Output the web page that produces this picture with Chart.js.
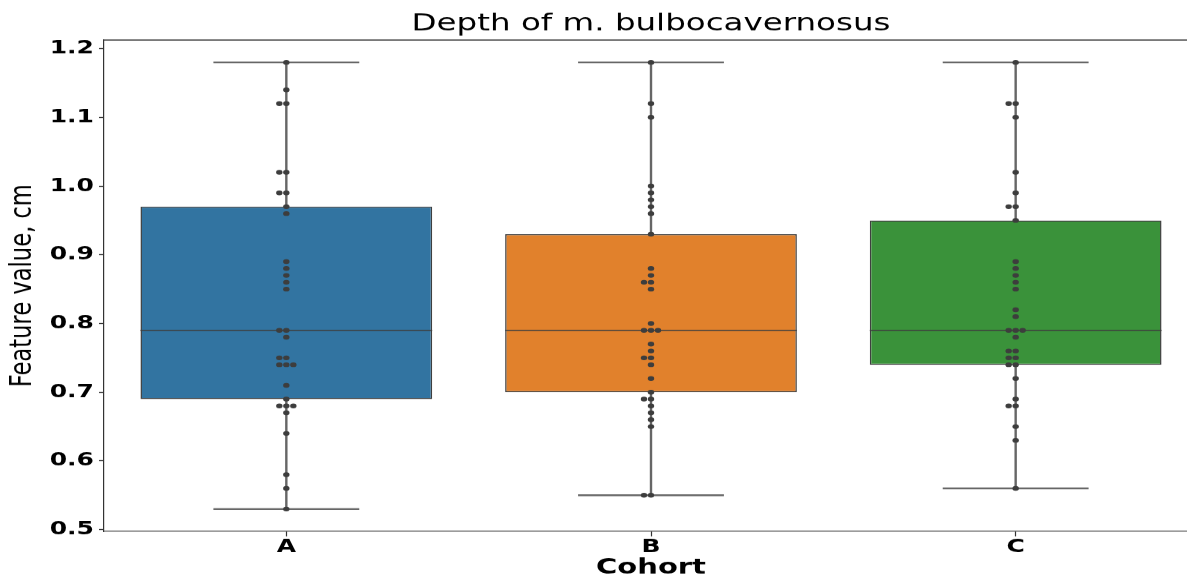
<!DOCTYPE html>
<html>
<head>
<meta charset="utf-8">
<script src="https://cdn.jsdelivr.net/npm/chart.js@4.4.1/dist/chart.umd.min.js"></script>
<style>
  html, body { margin: 0; padding: 0; background: #fff; width: 1187px; height: 581px; overflow: hidden; }
  #wrap { width: 1240px; height: 784px; transform-origin: 0 0; transform: scaleY(0.741071); }
  canvas { display: block; }
</style>
</head>
<body>
<div id="wrap"><canvas id="c" width="1240" height="784" style="width:1240px;height:784px"></canvas></div>
<script>
// Cohorts on the category axis
const categories = ['A', 'B', 'C'];

// Individual measurements per cohort (cm)
const cohortA = [1.18, 1.14, 1.12, 1.12, 1.02, 1.02, 0.99, 0.99, 0.97, 0.96, 0.89, 0.88, 0.87, 0.86, 0.85,
                 0.79, 0.79, 0.78, 0.75, 0.75, 0.74, 0.74, 0.74, 0.71, 0.69, 0.68, 0.68, 0.68, 0.67, 0.64,
                 0.58, 0.56, 0.53];
const cohortB = [1.18, 1.12, 1.10, 1.00, 0.99, 0.98, 0.97, 0.96, 0.93, 0.88, 0.87, 0.86, 0.86, 0.85, 0.80,
                 0.79, 0.79, 0.79, 0.77, 0.76, 0.75, 0.75, 0.74, 0.72, 0.70, 0.69, 0.69, 0.68, 0.67, 0.66,
                 0.65, 0.55, 0.55];
const cohortC = [1.18, 1.12, 1.12, 1.10, 1.02, 0.99, 0.97, 0.97, 0.95, 0.89, 0.88, 0.87, 0.86, 0.85, 0.82,
                 0.81, 0.79, 0.79, 0.79, 0.78, 0.76, 0.76, 0.75, 0.75, 0.74, 0.74, 0.72, 0.69, 0.68, 0.68,
                 0.65, 0.63, 0.56];

// Box summary per cohort
const whiskerLow  = [0.53, 0.55, 0.56];
const q1          = [0.69, 0.70, 0.74];
const median      = [0.79, 0.79, 0.79];
const q3          = [0.97, 0.93, 0.95];
const whiskerHigh = [1.18, 1.18, 1.18];

// Y axis tick values
const yTicks = [0.5, 0.6, 0.7, 0.8, 0.9, 1.0, 1.1, 1.2];

const boxColors = ['#3274a1', '#e1812c', '#3a923a'];
const FONT = 'DejaVu Sans';

// Beeswarm layout: equal values are spread sideways (centre, left, right, ...)
function swarm(values, center, step) {
  const seen = {};
  return values.map(v => {
    const k = seen[v] || 0;
    seen[v] = k + 1;
    const slot = k === 0 ? 0 : (k % 2 === 1 ? -Math.ceil(k / 2) : Math.ceil(k / 2));
    return { x: center + slot * step, y: v };
  });
}

const cohorts = [cohortA, cohortB, cohortC];
const SWARM_STEP = 0.0192;

const boxData = categories.map((_, i) => ({ x: i, y: [q1[i], q3[i]] }));

// Whiskers, caps, medians and the top frame line
const boxPlotExtras = {
  id: 'boxPlotExtras',
  afterDatasetDraw(chart, args) {
    if (args.meta.type !== 'bar') return;
    const { ctx, scales: { x, y } } = chart;
    ctx.save();
    categories.forEach((_, i) => {
      const cx = x.getPixelForValue(i);
      const capL = x.getPixelForValue(i - 0.2), capR = x.getPixelForValue(i + 0.2);
      const boxL = x.getPixelForValue(i - 0.4), boxR = x.getPixelForValue(i + 0.4);
      ctx.strokeStyle = '#666666';
      ctx.lineWidth = 2.4;
      ctx.beginPath();
      ctx.moveTo(cx, y.getPixelForValue(whiskerLow[i]));
      ctx.lineTo(cx, y.getPixelForValue(q1[i]));
      ctx.moveTo(cx, y.getPixelForValue(q3[i]));
      ctx.lineTo(cx, y.getPixelForValue(whiskerHigh[i]));
      ctx.moveTo(capL, y.getPixelForValue(whiskerLow[i]));
      ctx.lineTo(capR, y.getPixelForValue(whiskerLow[i]));
      ctx.moveTo(capL, y.getPixelForValue(whiskerHigh[i]));
      ctx.lineTo(capR, y.getPixelForValue(whiskerHigh[i]));
      ctx.stroke();
      ctx.strokeStyle = '#3f3f3f';
      ctx.lineWidth = 1.5;
      ctx.beginPath();
      ctx.moveTo(boxL, y.getPixelForValue(median[i]));
      ctx.lineTo(boxR, y.getPixelForValue(median[i]));
      ctx.stroke();
    });
    ctx.restore();
  },
  afterDraw(chart) {
    const { ctx, chartArea } = chart;
    ctx.save();
    ctx.strokeStyle = '#333333';
    ctx.lineWidth = 1.35;
    ctx.beginPath();
    ctx.moveTo(chartArea.left, chartArea.top);
    ctx.lineTo(chartArea.right, chartArea.top);
    ctx.stroke();
    ctx.restore();
  }
};

new Chart(document.getElementById('c'), {
  type: 'bar',
  data: {
    datasets: [
      {
        type: 'bar',
        data: boxData,
        backgroundColor: boxColors,
        borderColor: '#3f3f3f',
        borderWidth: 1.5,
        borderSkipped: false,
        barPercentage: 1,
        categoryPercentage: 0.8,
        order: 2
      },
      ...cohorts.map((vals, i) => ({
        type: 'scatter',
        data: swarm(vals, i, SWARM_STEP),
        backgroundColor: '#3d3d3d',
        borderWidth: 0,
        pointRadius: 3.2,
        order: 1
      }))
    ]
  },
  options: {
    responsive: false,
    devicePixelRatio: 1,
    animation: false,
    layout: { padding: { left: 0, right: 42, top: 0, bottom: 0 } },
    plugins: {
      legend: { display: false },
      tooltip: { enabled: false },
      title: {
        display: true,
        fullSize: false,
        text: 'Depth of m. bulbocavernosus',
        color: '#000',
        font: { family: FONT, size: 32.5, weight: 'normal' },
        padding: { top: 13, bottom: 2 }
      }
    },
    scales: {
      x: {
        type: 'linear',
        offset: false,
        min: -0.5,
        max: 2.5,
        afterBuildTicks: s => { s.ticks = categories.map((_, i) => ({ value: i })); },
        afterFit: s => { s.height = 67; },
        ticks: {
          callback: v => categories[v],
          color: '#000',
          padding: 0,
          font: { family: FONT, size: 25, weight: 'bold' },
          maxRotation: 0
        },
        grid: { offset: false, drawOnChartArea: false, drawTicks: true, tickLength: 6.7, tickColor: '#333', tickWidth: 1.2 },
        border: { display: true, color: '#333', width: 1.35 },
        title: {
          display: true,
          text: 'Cohort',
          color: '#000',
          font: { family: FONT, size: 29, weight: 'bold' },
          padding: { top: 0, bottom: 0 }
        }
      },
      y: {
        type: 'linear',
        min: 0.4975,
        max: 1.2125,
        afterBuildTicks: s => { s.ticks = yTicks.map(v => ({ value: v })); },
        afterFit: s => { s.width = 104; },
        ticks: {
          callback: v => v.toFixed(1),
          color: '#000',
          padding: 5,
          font: { family: FONT, size: 25, weight: 'bold' }
        },
        grid: { drawOnChartArea: false, drawTicks: true, tickLength: 5, tickColor: '#333', tickWidth: 1.35 },
        border: { display: true, color: '#333', width: 1.2 },
        title: {
          display: true,
          text: 'Feature value, cm',
          color: '#000',
          font: { family: FONT, size: 30.5, weight: 'normal' },
          padding: { top: 5, bottom: 0 }
        }
      }
    }
  },
  plugins: [boxPlotExtras]
});
</script>
</body>
</html>
